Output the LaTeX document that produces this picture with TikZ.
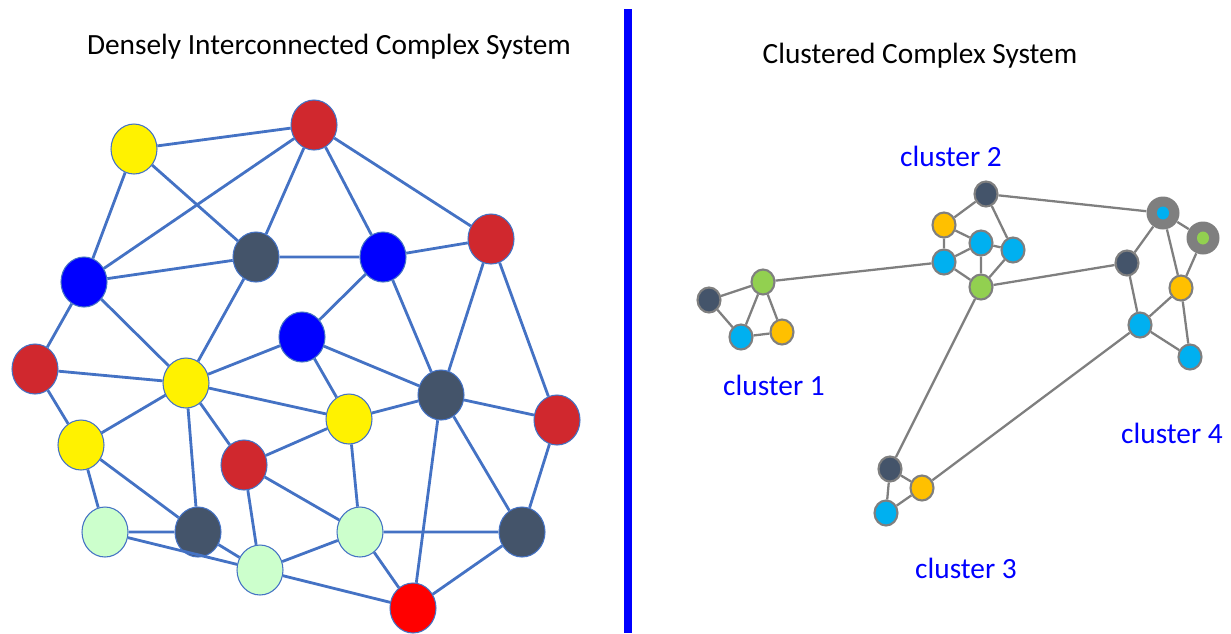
\documentclass[tikz,border=0pt]{standalone}
\usepackage{fontspec}
\setmainfont{Carlito}
\usetikzlibrary{shapes.geometric}

\definecolor{linkblue}{HTML}{4472C4}
\definecolor{darkred}{HTML}{D0282E}
\definecolor{slate}{HTML}{44546A}
\definecolor{paleg}{HTML}{CCFFCC}
\definecolor{linkgray}{HTML}{7F7F7F}
\definecolor{leaf}{HTML}{92D050}
\definecolor{sky}{HTML}{00B0F0}
\definecolor{amber}{HTML}{FFC000}

\begin{document}
\begin{tikzpicture}[x=0.02cm,y=-0.02cm,
  big/.style={ellipse,draw=linkblue,line width=0.6pt,inner sep=0pt,minimum width=0.92cm,minimum height=1cm},
  small/.style={ellipse,draw=linkgray,line width=1.2pt,inner sep=0pt,minimum width=0.46cm,minimum height=0.5cm},
  hub/.style={circle,fill=linkgray,inner sep=0pt,minimum size=0.66cm},
  dot/.style={ellipse,inner sep=0pt,minimum width=0.24cm,minimum height=0.26cm},
  dense/.style={draw=linkblue,line width=1.6pt},
  sparse/.style={draw=linkgray,line width=1.3pt},
  title/.style={font=\fontsize{16.7}{20}\selectfont},
  tag/.style={font=\fontsize{16.7}{20}\selectfont,text=blue}]

\useasboundingbox (0,0) rectangle (1231,633);

\node[title] (t1) at (329,47) {Densely Interconnected Complex System};
\node[title] (t2) at (920,56) {Clustered Complex System};

\path[draw=blue,line width=4.5pt] (628,9) -- (628,633);

%dense
\node[big,fill=yellow] (y1) at (134,149) {};
\node[big,fill=darkred] (r1) at (314,125) {};
\node[big,fill=blue] (b1) at (84,282) {};
\node[big,fill=slate] (k1) at (256,257) {};
\node[big,fill=blue] (b2) at (383,257) {};
\node[big,fill=darkred] (r2) at (491,239) {};
\node[big,fill=blue] (b3) at (302,337) {};
\node[big,fill=darkred] (r3) at (35,369) {};
\node[big,fill=yellow] (y2) at (186,383) {};
\node[big,fill=slate] (k2) at (441,395) {};
\node[big,fill=yellow] (y3) at (349,419) {};
\node[big,fill=darkred] (r4) at (557,420) {};
\node[big,fill=yellow] (y4) at (81,445) {};
\node[big,fill=darkred] (r5) at (244,465) {};
\node[big,fill=paleg] (g1) at (105,532) {};
\node[big,fill=slate] (k3) at (198,532) {};
\node[big,fill=paleg] (g2) at (360,532) {};
\node[big,fill=slate] (k4) at (522,532) {};
\node[big,fill=paleg] (g3) at (260,570) {};
\node[big,fill=red] (r6) at (413,608) {};

\path[dense] (y1) -- (r1) (y1) -- (b1) (y1) -- (k1) (r1) -- (b1) (r1) -- (k1)
  (r1) -- (b2) (r1) -- (r2) (b1) -- (k1) (k1) -- (b2) (b2) -- (r2)
  (b1) -- (r3) (b1) -- (y2) (k1) -- (y2) (r3) -- (y2) (y2) -- (b3)
  (b3) -- (b2) (b3) -- (k2) (b2) -- (k2) (r2) -- (k2) (r2) -- (r4)
  (b3) -- (y3) (y2) -- (y3) (y3) -- (k2) (k2) -- (r4) (r4) -- (k4)
  (k2) -- (k4) (k2) -- (r6) (y3) -- (g2) (y2) -- (y4) (r3) -- (y4)
  (y2) -- (k3) (y2) -- (r5) (y4) -- (g1) (y4) -- (k3) (g1) -- (k3)
  (k3) -- (g3) (g1) -- (g3) (r5) -- (g3) (r5) -- (y3) (r5) -- (g2)
  (g3) -- (g2) (g3) -- (r6) (g2) -- (r6) (g2) -- (k4) (k4) -- (r6);

%cluster 1
\node[small,fill=slate] (c1k) at (709,300) {};
\node[small,fill=leaf] (c1g) at (763,282) {};
\node[small,fill=sky] (c1c) at (741,337) {};
\node[small,fill=amber] (c1o) at (782,332) {};
\node[tag] (l1) at (774,385) {cluster 1};

%cluster 2
\node[small,fill=slate] (c2k) at (986,194) {};
\node[small,fill=amber] (c2o) at (944,225) {};
\node[small,fill=sky] (c2m) at (981,243) {};
\node[small,fill=sky] (c2r) at (1013,250) {};
\node[small,fill=sky] (c2l) at (944,262) {};
\node[small,fill=leaf] (c2g) at (981,287) {};
\node[tag] (l2) at (951,156) {cluster 2};

%cluster 3
\node[small,fill=slate] (c3k) at (890,469) {};
\node[small,fill=amber] (c3o) at (922,488) {};
\node[small,fill=sky] (c3c) at (886,513) {};
\node[tag] (l3) at (966,568) {cluster 3};

%cluster 4
\node[hub] (c4a) at (1163,213) {};
\node[dot,fill=sky] (c4ai) at (c4a) {};
\node[hub] (c4b) at (1203,238) {};
\node[dot,fill=leaf] (c4bi) at (c4b) {};
\node[small,fill=slate] (c4k) at (1127,263) {};
\node[small,fill=amber] (c4o) at (1181,288) {};
\node[small,fill=sky] (c4c) at (1140,325) {};
\node[small,fill=sky] (c4d) at (1190,357) {};
\node[tag] (l4) at (1172,433) {cluster 4};

\path[sparse] (c1k) -- (c1g) (c1k) -- (c1c) (c1g) -- (c1c) (c1g) -- (c1o)
  (c1c) -- (c1o) (c1g) -- (c2l);
\path[sparse] (c2k) -- (c2o) (c2k) -- (c2r) (c2k) -- (c4a) (c2o) -- (c2m)
  (c2o) -- (c2l) (c2l) -- (c2m) (c2m) -- (c2r) (c2m) -- (c2g) (c2l) -- (c2g)
  (c2r) -- (c2g) (c2g) -- (c4k) (c2g) -- (c3k);
\path[sparse] (c4a) -- (c4b) (c4a) -- (c4k) (c4a) -- (c4o) (c4b) -- (c4o)
  (c4k) -- (c4c) (c4o) -- (c4c) (c4o) -- (c4d) (c4c) -- (c4d) (c4c) -- (c3o);
\path[sparse] (c3k) -- (c3o) (c3k) -- (c3c) (c3o) -- (c3c);

\end{tikzpicture}
\end{document}
